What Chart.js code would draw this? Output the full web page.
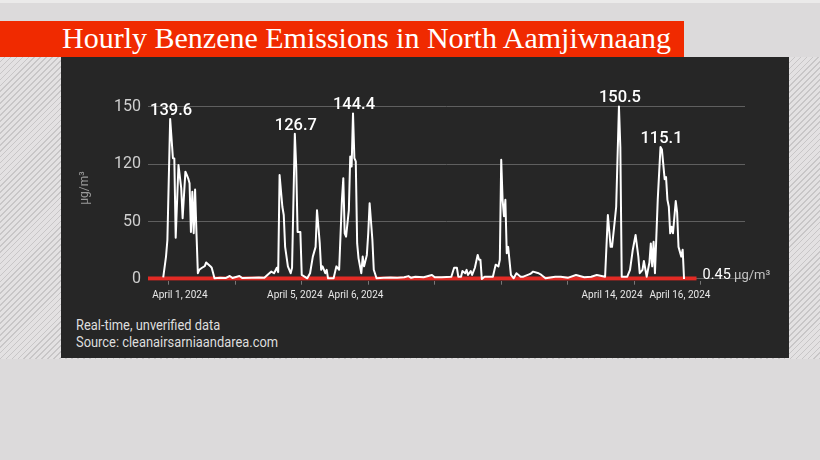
<!DOCTYPE html>
<html>
<head>
<meta charset="utf-8">
<script src="https://cdn.jsdelivr.net/npm/chart.js@4.4.1/dist/chart.umd.min.js"></script>
<style>
    body {
        margin: 0;
        width: 820px;
        height: 460px;
        background: #dcdadb;
        overflow: hidden;
        position: relative;
        font-family: Roboto, sans-serif;
    }
    .topStrip {
        position: absolute; left: 0; top: 0; width: 820px; height: 3px;
        background: #ebeaea;
    }
    .hatch {
        position: absolute; left: 0; top: 57px; width: 820px; height: 302px;
        background: repeating-linear-gradient(135deg, #e3e1e2 0px, #e3e1e2 3px, #c8c6c7 3px, #c8c6c7 4.2px);
    }
    .banner {
        position: absolute; left: 0; top: 21px; width: 684px; height: 36px;
        background: #f02a00;
    }
    .title {
        position: absolute; left: 62px; top: -1px;
        font-family: "Liberation Serif", serif;
        font-size: 30px;
        line-height: 36px;
        color: #ffffff;
        white-space: nowrap;
    }
    .panel {
        position: absolute; left: 61px; top: 57px; width: 728px; height: 301px;
        background: #262626;
    }
    .chartBox {
        position: absolute; left: 0; top: 0; width: 728px; height: 253px;
    }
    .notes {
        position: absolute; left: 15px; top: 260px;
        font-size: 14px;
        line-height: 17px;
        color: #dedede;
        white-space: nowrap;
        transform: scaleX(0.92);
        transform-origin: left top;
    }
</style>
</head>
<body>
<div class="topStrip"></div>
<div class="hatch"></div>
<div class="banner"><div class="title">Hourly Benzene Emissions in North Aamjiwnaang</div></div>
<div class="panel">
    <div class="chartBox"><canvas id="benzeneChart"></canvas></div>
    <div class="notes">Real-time, unverified data<br>Source: cleanairsarniaandarea.com</div>
</div>
<script>
// hours counted from the left edge of the time axis
var benzeneHours = [11, 13, 14, 16, 18, 19, 20, 22, 24, 25, 27, 28, 29, 30, 31, 32, 33, 34, 35, 36,
    37, 39, 41, 42, 45, 46, 48, 52, 56, 59, 61, 66, 68, 75, 80, 84, 87, 89, 91, 93,
    94, 95, 97, 98, 99, 101, 103, 104, 106, 107, 108, 110, 111, 115, 117, 119, 121, 122, 124, 125,
    126, 128, 129, 130, 134, 136, 138, 140, 141, 142, 143, 145, 146, 147, 148, 149, 150, 151, 152, 154,
    155, 156, 158, 159, 160, 162, 163, 165, 170, 175, 180, 185, 188, 190, 193, 199, 205, 207, 212, 219,
    221, 223, 224, 226, 227, 229, 230, 231, 233, 234, 236, 238, 239, 240, 241, 243, 249, 251, 253, 254,
    255, 256, 257, 258, 259, 260, 262, 264, 266, 269, 271, 276, 278, 282, 284, 287, 294, 298, 303, 309,
    315, 320, 324, 330, 332, 334, 335, 337, 338, 340, 341, 342, 346, 348, 350, 352, 354, 355, 357, 358,
    360, 362, 363, 364, 365, 366, 368, 370, 371, 373, 374, 375, 376, 377, 378, 379, 381, 382, 383, 385,
    386, 387];
var benzeneValues = [1.5, 19.5, 34, 139.6, 105.3, 105, 35.9, 99.4, 79, 53, 93.6, 90.7, 87.8, 83.4, 41, 76, 39.8, 78, 39.8, 5,
    8, 9.8, 11.2, 14.4, 11.2, 9.8, 0.6, 1, 0.8, 2.6, 0.8, 2.6, 0.8, 1, 1.2, 1, 4.4, 6.4, 5, 9.8,
    6, 90.7, 63, 55.8, 28, 11, 5, 9.8, 126.7, 98, 41, 41, 3.5, 0.6, 5, 19.5, 28, 60, 31, 8,
    11, 5, 8, 0.6, 0.6, 11, 8, 69, 87.8, 39.8, 36.9, 60, 106.7, 98, 144.4, 105.3, 102.5, 31, 18, 5,
    19.5, 11, 21, 39.8, 66, 34, 8, 0.6, 1, 1.2, 1, 1.5, 2.5, 1, 2, 1.5, 3.5, 1.5, 1.5, 2,
    9.8, 9.8, 2, 2, 7, 5, 8, 3.5, 7, 3.5, 9.8, 21, 16.8, 16.8, 0, 2, 2, 12.5, 11, 16.8,
    104, 69, 54.7, 69, 22.4, 28, 3.5, 0.6, 5, 2, 2, 4.4, 6.4, 5, 3.5, 0.6, 2, 2, 1, 3.5,
    1.5, 2, 3.5, 2, 55.8, 28, 28, 51, 63, 150.5, 115, 2, 2, 8, 25.5, 38.4, 19.5, 5, 8, 15.7,
    2, 14.4, 31, 11, 32.5, 5, 69, 115.1, 113, 87, 88.8, 69, 63, 39.8, 45.6, 39.8, 68, 58, 28, 19.5,
    25.5, 0];
var peakValues = [139.6, 126.7, 144.4, 150.5, 115.1];

var thresholdValue = 0.45;
var thresholdSpan = [0, 396];

var dateLabels = ['April 1, 2024', 'April 5, 2024', 'April 6, 2024', 'April 14, 2024', 'April 16, 2024'];
var dateLabelHours = [23, 106, 150, 335, 384];
var tickHours = [15, 63, 111, 159, 207, 255, 303, 351, 399];
var xMax = 431;

var yTickValues = [0, 50, 100, 150];
var yTickLabels = ['0', '50', '120', '150'];

function toPoints(xs, ys) {
    var pts = [];
    for (var i = 0; i < xs.length; i++) {
        pts.push({x: xs[i], y: ys[i]});
    }
    return pts;
}

var labelPlugin = {
    id: 'benzeneLabels',
    afterDatasetsDraw: function (chart) {
        var ctx = chart.ctx;
        var xs = chart.scales.x;
        var ys = chart.scales.y;
        ctx.save();
        ctx.fillStyle = '#ffffff';
        ctx.textAlign = 'center';
        ctx.textBaseline = 'alphabetic';
        ctx.font = '500 16.5px Roboto';
        for (var p = 0; p < peakValues.length; p++) {
            var i = benzeneValues.indexOf(peakValues[p]);
            if (i < 0) continue;
            ctx.fillText(peakValues[p].toFixed(1), xs.getPixelForValue(benzeneHours[i]) + 1,
                ys.getPixelForValue(peakValues[p]) - 4);
        }
        // threshold label at the end of the red line
        var tx = xs.getPixelForValue(thresholdSpan[1]) + 6;
        var ty = ys.getPixelForValue(thresholdValue) + 0.5;
        var num = String(thresholdValue);
        ctx.textAlign = 'left';
        ctx.font = '14.5px Roboto';
        ctx.fillText(num, tx, ty);
        var w = ctx.measureText(num).width;
        ctx.fillStyle = '#c4c4c4';
        ctx.font = '13px Roboto';
        ctx.fillText(' \u00b5g/m\u00b3', tx + w, ty);
        ctx.restore();
    }
};

Chart.defaults.font.family = 'Roboto';

new Chart('benzeneChart', {
    type: 'line',
    data: {
        datasets: [{
            data: toPoints(benzeneHours, benzeneValues),
            borderColor: '#ffffff',
            borderWidth: 2,
            borderJoinStyle: 'round',
            pointRadius: 0,
            tension: 0,
            fill: false,
            xAxisID: 'x'
        }, {
            data: toPoints(thresholdSpan, [thresholdValue, thresholdValue]),
            borderColor: '#e32a24',
            borderWidth: 4,
            pointRadius: 0,
            fill: false,
            xAxisID: 'x'
        }]
    },
    options: {
        responsive: true,
        maintainAspectRatio: false,
        animation: false,
        layout: {padding: {left: 10, right: 44, top: 38.5, bottom: 0}},
        plugins: {legend: {display: false}, tooltip: {enabled: false}},
        scales: {
            x: {
                type: 'linear',
                position: 'bottom',
                weight: 0,
                min: 0,
                max: xMax,
                border: {display: false},
                grid: {drawOnChartArea: false, drawTicks: true, tickLength: 4, color: '#777777'},
                ticks: {display: false},
                afterBuildTicks: function (axis) {
                    axis.ticks = tickHours.map(function (h) { return {value: h}; });
                },
                afterFit: function (axis) { axis.height = 4; }
            },
            xDates: {
                type: 'linear',
                position: 'bottom',
                weight: 1,
                min: 0,
                max: xMax,
                border: {display: false},
                grid: {display: false, drawTicks: false},
                ticks: {
                    autoSkip: false,
                    maxRotation: 0,
                    padding: 5,
                    color: '#e8e8e8',
                    font: {size: 10},
                    callback: function (value) {
                        var i = dateLabelHours.indexOf(value);
                        return i < 0 ? '' : dateLabels[i];
                    }
                },
                afterBuildTicks: function (axis) {
                    axis.ticks = dateLabelHours.map(function (h) { return {value: h}; });
                },
                afterFit: function (axis) { axis.height = 25.3; }
            },
            y: {
                min: -1.5,
                max: 160,
                border: {display: false},
                grid: {color: '#5f5f5f', drawTicks: false, tickLength: 0},
                title: {
                    display: true,
                    text: '\u00b5g/m\u00b3',
                    color: '#9a9a9a',
                    font: {size: 12},
                    padding: {top: 7, bottom: 0}
                },
                ticks: {
                    padding: 7,
                    color: '#cfcfcf',
                    font: {size: 16},
                    callback: function (value) {
                        var i = yTickValues.indexOf(value);
                        return i < 0 ? '' : yTickLabels[i];
                    }
                },
                afterBuildTicks: function (axis) {
                    axis.ticks = yTickValues.map(function (v) { return {value: v}; });
                },
                afterFit: function (axis) { axis.width = 77; }
            }
        }
    },
    plugins: [labelPlugin]
});
</script>
</body>
</html>
